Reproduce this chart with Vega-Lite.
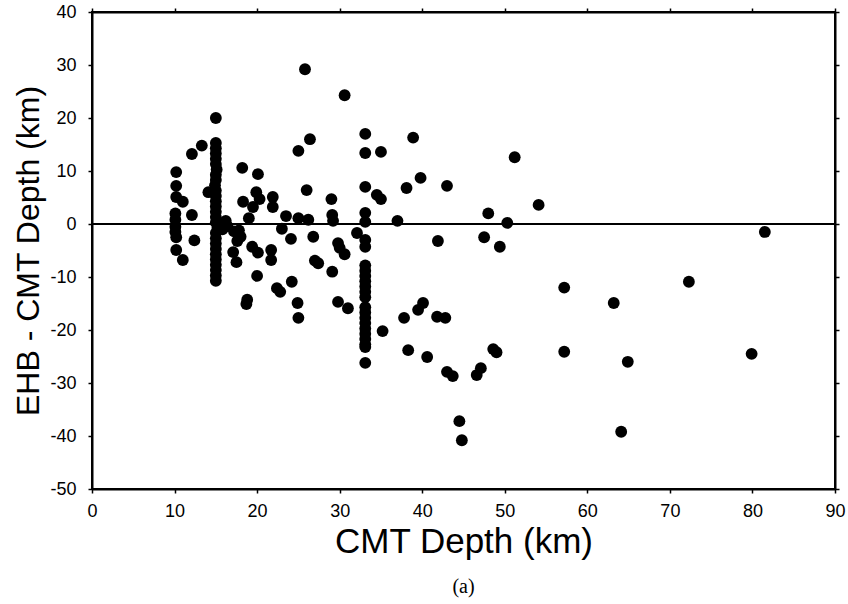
{
  "$schema": "https://vega.github.io/schema/vega-lite/v6.json",
  "autosize": {"type": "none"},
  "width": 743,
  "height": 477,
  "padding": {"left": 92, "top": 12, "right": 13, "bottom": 115},
  "background": "white",
  "config": {
    "view": {"stroke": "black", "strokeWidth": 2},
    "font": "Liberation Sans",
    "axis": {
      "domainColor": "black", "domainWidth": 2, "tickColor": "black", "tickWidth": 1.5, "tickSize": 4,
      "grid": false, "labelColor": "black", "titleColor": "black", "labelFont": "Liberation Sans", "titleFont": "Liberation Sans",
      "labelFontSize": 18, "titleFontWeight": "normal"
    }
  },
  "title": {"text": "(a)", "orient": "bottom", "font": "Liberation Serif", "fontSize": 20, "fontWeight": "normal", "color": "black", "offset": 18},
  "data": {"values": [
    {"cmt": 25.8, "diff": 29.2}, {"cmt": 30.6, "diff": 24.3}, {"cmt": 15.0, "diff": 20.0},
    {"cmt": 13.3, "diff": 14.8}, {"cmt": 12.1, "diff": 13.2}, {"cmt": 10.2, "diff": 9.8},
    {"cmt": 10.2, "diff": 7.2}, {"cmt": 10.2, "diff": 5.1}, {"cmt": 11.0, "diff": 4.2},
    {"cmt": 12.1, "diff": 1.7}, {"cmt": 10.1, "diff": 2.0}, {"cmt": 10.1, "diff": 0.8},
    {"cmt": 10.1, "diff": -0.5}, {"cmt": 10.1, "diff": -1.5}, {"cmt": 10.2, "diff": -2.5},
    {"cmt": 14.1, "diff": 6.0}, {"cmt": 18.2, "diff": 10.6}, {"cmt": 20.1, "diff": 9.4},
    {"cmt": 19.9, "diff": 6.0}, {"cmt": 20.3, "diff": 4.7}, {"cmt": 18.3, "diff": 4.2},
    {"cmt": 19.5, "diff": 3.2}, {"cmt": 21.9, "diff": 5.1}, {"cmt": 21.9, "diff": 3.2},
    {"cmt": 19.0, "diff": 1.1}, {"cmt": 23.5, "diff": 1.5}, {"cmt": 25.0, "diff": 1.1},
    {"cmt": 26.2, "diff": 0.8}, {"cmt": 26.0, "diff": 6.4}, {"cmt": 25.0, "diff": 13.8},
    {"cmt": 26.4, "diff": 16.0}, {"cmt": 29.0, "diff": 4.7}, {"cmt": 29.1, "diff": 1.7},
    {"cmt": 29.2, "diff": 0.6}, {"cmt": 23.0, "diff": -0.9}, {"cmt": 24.1, "diff": -2.8},
    {"cmt": 26.8, "diff": -2.4}, {"cmt": 16.2, "diff": 0.6}, {"cmt": 12.4, "diff": -3.1},
    {"cmt": 10.2, "diff": -4.9}, {"cmt": 11.0, "diff": -6.8},
    {"cmt": 16.4, "diff": -0.4}, {"cmt": 17.2, "diff": -1.4}, {"cmt": 17.8, "diff": -1.2},
    {"cmt": 18.0, "diff": -2.4}, {"cmt": 17.6, "diff": -3.2}, {"cmt": 15.8, "diff": -1.0},
    {"cmt": 17.1, "diff": -5.3}, {"cmt": 17.5, "diff": -7.2}, {"cmt": 19.4, "diff": -4.3},
    {"cmt": 20.1, "diff": -5.4}, {"cmt": 20.0, "diff": -9.8}, {"cmt": 21.7, "diff": -4.9},
    {"cmt": 21.7, "diff": -6.8}, {"cmt": 24.2, "diff": -10.9}, {"cmt": 22.4, "diff": -12.1},
    {"cmt": 22.8, "diff": -12.8}, {"cmt": 18.8, "diff": -14.3}, {"cmt": 18.7, "diff": -15.1},
    {"cmt": 24.9, "diff": -14.9}, {"cmt": 25.0, "diff": -17.7}, {"cmt": 27.0, "diff": -6.9},
    {"cmt": 27.4, "diff": -7.4}, {"cmt": 29.1, "diff": -9.0}, {"cmt": 29.8, "diff": -3.6},
    {"cmt": 30.0, "diff": -4.5}, {"cmt": 30.6, "diff": -5.7}, {"cmt": 29.8, "diff": -14.7},
    {"cmt": 31.0, "diff": -15.9}, {"cmt": 32.1, "diff": -1.7},
    {"cmt": 35.0, "diff": 13.6}, {"cmt": 38.9, "diff": 16.3}, {"cmt": 51.2, "diff": 12.6},
    {"cmt": 34.5, "diff": 5.5}, {"cmt": 35.0, "diff": 4.7}, {"cmt": 38.1, "diff": 6.8},
    {"cmt": 39.8, "diff": 8.7}, {"cmt": 43.0, "diff": 7.2}, {"cmt": 54.1, "diff": 3.6},
    {"cmt": 48.0, "diff": 2.0}, {"cmt": 50.3, "diff": 0.2}, {"cmt": 37.0, "diff": 0.6},
    {"cmt": 41.9, "diff": -3.2}, {"cmt": 47.5, "diff": -2.5}, {"cmt": 49.4, "diff": -4.3},
    {"cmt": 35.2, "diff": -20.2}, {"cmt": 37.8, "diff": -17.7}, {"cmt": 39.5, "diff": -16.2},
    {"cmt": 40.1, "diff": -14.9}, {"cmt": 41.8, "diff": -17.5}, {"cmt": 42.8, "diff": -17.7},
    {"cmt": 38.3, "diff": -23.8}, {"cmt": 40.6, "diff": -25.1}, {"cmt": 43.0, "diff": -27.9},
    {"cmt": 43.7, "diff": -28.7}, {"cmt": 44.5, "diff": -37.2}, {"cmt": 44.8, "diff": -40.8},
    {"cmt": 46.6, "diff": -28.5}, {"cmt": 47.1, "diff": -27.2}, {"cmt": 48.6, "diff": -23.6},
    {"cmt": 49.0, "diff": -24.2}, {"cmt": 57.2, "diff": -12.0}, {"cmt": 57.2, "diff": -24.1},
    {"cmt": 81.5, "diff": -1.5}, {"cmt": 63.2, "diff": -14.9}, {"cmt": 72.3, "diff": -10.9},
    {"cmt": 64.9, "diff": -26.0}, {"cmt": 79.9, "diff": -24.5}, {"cmt": 64.1, "diff": -39.2},
    {"cmt": 15.0, "diff": 15.3}, {"cmt": 15.0, "diff": 14.3}, {"cmt": 15.0, "diff": 13.3},
    {"cmt": 15.0, "diff": 12.3}, {"cmt": 15.0, "diff": 11.3}, {"cmt": 15.1, "diff": 10.3},
    {"cmt": 15.0, "diff": 9.3}, {"cmt": 15.0, "diff": 8.3}, {"cmt": 14.9, "diff": 7.3},
    {"cmt": 15.0, "diff": 6.3}, {"cmt": 15.0, "diff": 5.3}, {"cmt": 15.0, "diff": 4.3},
    {"cmt": 15.0, "diff": 3.3}, {"cmt": 15.0, "diff": 2.3}, {"cmt": 15.0, "diff": 1.3},
    {"cmt": 15.0, "diff": 0.3}, {"cmt": 15.2, "diff": -0.7}, {"cmt": 15.0, "diff": -1.7},
    {"cmt": 15.0, "diff": -2.7}, {"cmt": 15.0, "diff": -3.7}, {"cmt": 15.0, "diff": -4.7},
    {"cmt": 15.0, "diff": -5.7}, {"cmt": 15.0, "diff": -6.7}, {"cmt": 15.0, "diff": -7.7},
    {"cmt": 15.0, "diff": -8.7}, {"cmt": 15.0, "diff": -9.7}, {"cmt": 15.0, "diff": -10.7},
    {"cmt": 33.1, "diff": 17.0}, {"cmt": 33.1, "diff": 13.4}, {"cmt": 33.1, "diff": 7.0},
    {"cmt": 33.1, "diff": 2.1}, {"cmt": 33.1, "diff": 0.4}, {"cmt": 33.1, "diff": -3.0},
    {"cmt": 33.1, "diff": -4.3}, {"cmt": 33.1, "diff": -7.8}, {"cmt": 33.1, "diff": -8.8},
    {"cmt": 33.1, "diff": -9.8}, {"cmt": 33.1, "diff": -10.8}, {"cmt": 33.1, "diff": -11.8},
    {"cmt": 33.1, "diff": -12.8}, {"cmt": 33.1, "diff": -13.8}, {"cmt": 33.1, "diff": -15.7},
    {"cmt": 33.1, "diff": -16.7}, {"cmt": 33.1, "diff": -17.7}, {"cmt": 33.1, "diff": -18.7},
    {"cmt": 33.1, "diff": -19.7}, {"cmt": 33.1, "diff": -20.7}, {"cmt": 33.1, "diff": -21.7},
    {"cmt": 33.1, "diff": -22.7}, {"cmt": 33.1, "diff": -23.2}, {"cmt": 33.1, "diff": -26.2}
  ]},
  "layer": [
    {
      "mark": {"type": "rule", "color": "black", "strokeWidth": 2},
      "encoding": {
        "y": {"datum": 0, "type": "quantitative", "axis": {"orient": "right", "labels": false, "title": null, "values": [-50, -40, -30, -20, -10, 0, 10, 20, 30, 40]}},
        "x": {"datum": 0, "type": "quantitative", "axis": {"orient": "top", "labels": false, "title": null, "values": [0, 10, 20, 30, 40, 50, 60, 70, 80, 90]}},
        "x2": {"datum": 90}
      }
    },
    {
      "mark": {"type": "circle", "color": "black", "opacity": 1, "size": 140},
      "encoding": {
        "x": {"field": "cmt", "type": "quantitative", "scale": {"domain": [0, 90], "nice": false},
              "axis": {"orient": "bottom", "title": "CMT Depth (km)", "titleFontSize": 35, "values": [0, 10, 20, 30, 40, 50, 60, 70, 80, 90], "labelPadding": 9, "titlePadding": 4, "labelFlush": false}},
        "y": {"field": "diff", "type": "quantitative", "scale": {"domain": [-50, 40], "nice": false},
              "axis": {"orient": "left", "title": "EHB - CMT Depth (km)", "titleFontSize": 32, "values": [-50, -40, -30, -20, -10, 0, 10, 20, 30, 40], "labelExpr": "replace(datum.label, '\u2212', '-')", "labelPadding": 12, "titlePadding": 4, "labelFlush": false}}
      }
    }
  ],
  "resolve": {"axis": {"x": "independent", "y": "independent"}}
}
